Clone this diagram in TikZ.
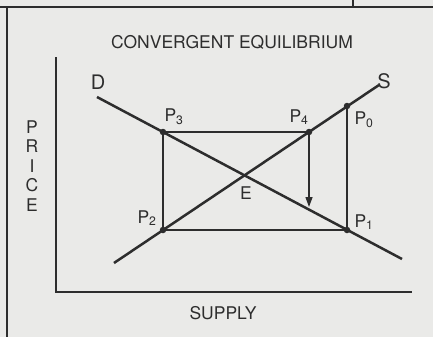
\documentclass[tikz,border=0pt]{standalone}
\usepackage{fontspec}
\setmainfont{TeX Gyre Heros}
\usetikzlibrary{arrows.meta,positioning,calc}
\definecolor{ink}{RGB}{45,45,45}
\definecolor{paper}{RGB}{234,234,232}

\begin{document}
\begin{tikzpicture}[x=1pt,y=-1pt,font=\fontsize{17.5}{19.5}\selectfont,>={Triangle[length=10pt,width=7pt]},
  curve/.style={draw=ink,line width=2.5pt},
  guide/.style={draw=ink,line width=1.3pt},
  dot/.style={circle,fill=ink,inner sep=0pt,minimum size=6.5pt},
  lbl/.style={inner sep=1pt,text=ink}]
\useasboundingbox[fill=paper] (0,0) rectangle (433,337);
% page frame
\coordinate (fl) at (0,7); \coordinate (fr) at (433,7);
\coordinate (fc) at (7,7); \coordinate (fb) at (7,337);
\coordinate (fk) at (353,0); \coordinate (fm) at (353,7);
\draw[guide] (fl) -- (fr); \draw[guide] (fc) -- (fb); \draw[guide] (fk) -- (fm);
% axes
\coordinate (ytop) at (56,57); \coordinate (xend) at (412,292);
\draw[guide] (ytop) |- (xend);
\node[lbl] (title) at (232,42) {CONVERGENT EQUILIBRIUM};
\node[lbl,align=center] (price) at (32,166) {P\\R\\I\\C\\E};
\node[lbl] (supply) at (223,313) {SUPPLY};
% points of the cobweb
\coordinate (p0) at (347,106); \coordinate (p1) at (347,230);
\coordinate (p2) at (163,230); \coordinate (p3) at (163,132);
\coordinate (p4) at (309,132); \coordinate (e) at (244,175);
\coordinate (tip) at (309,207);
\draw[guide] (p0) -- (p1) -- (p2) -- (p3) -- (p4);
\draw[guide,->] (p4) -- (tip);
% demand and supply
\coordinate (dtop) at (97,97); \coordinate (dbot) at (402,259);
\coordinate (sbot) at (114,263); \coordinate (stop) at (379,85);
\draw[curve] (dtop) -- (dbot);
\draw[curve] (sbot) -- (stop);
\foreach \p in {p0,p1,p2,p3,p4} \node[dot] at (\p) {};
% labels
\node[lbl,font=\fontsize{20}{22}\selectfont] (dl) at (98,82) {D};
\node[lbl,font=\fontsize{20}{22}\selectfont] (sl) at (384,81) {S};
\node[lbl] (l3) at (174,117) {P\textsubscript{3}};
\node[lbl] (l4) at (299,117) {P\textsubscript{4}};
\node[lbl] (l0) at (364,120) {P\textsubscript{0}};
\node[lbl] (l2) at (147,218) {P\textsubscript{2}};
\node[lbl] (l1) at (364,222) {P\textsubscript{1}};
\node[lbl] (el) at (246,193) {E};
\end{tikzpicture}
\end{document}
